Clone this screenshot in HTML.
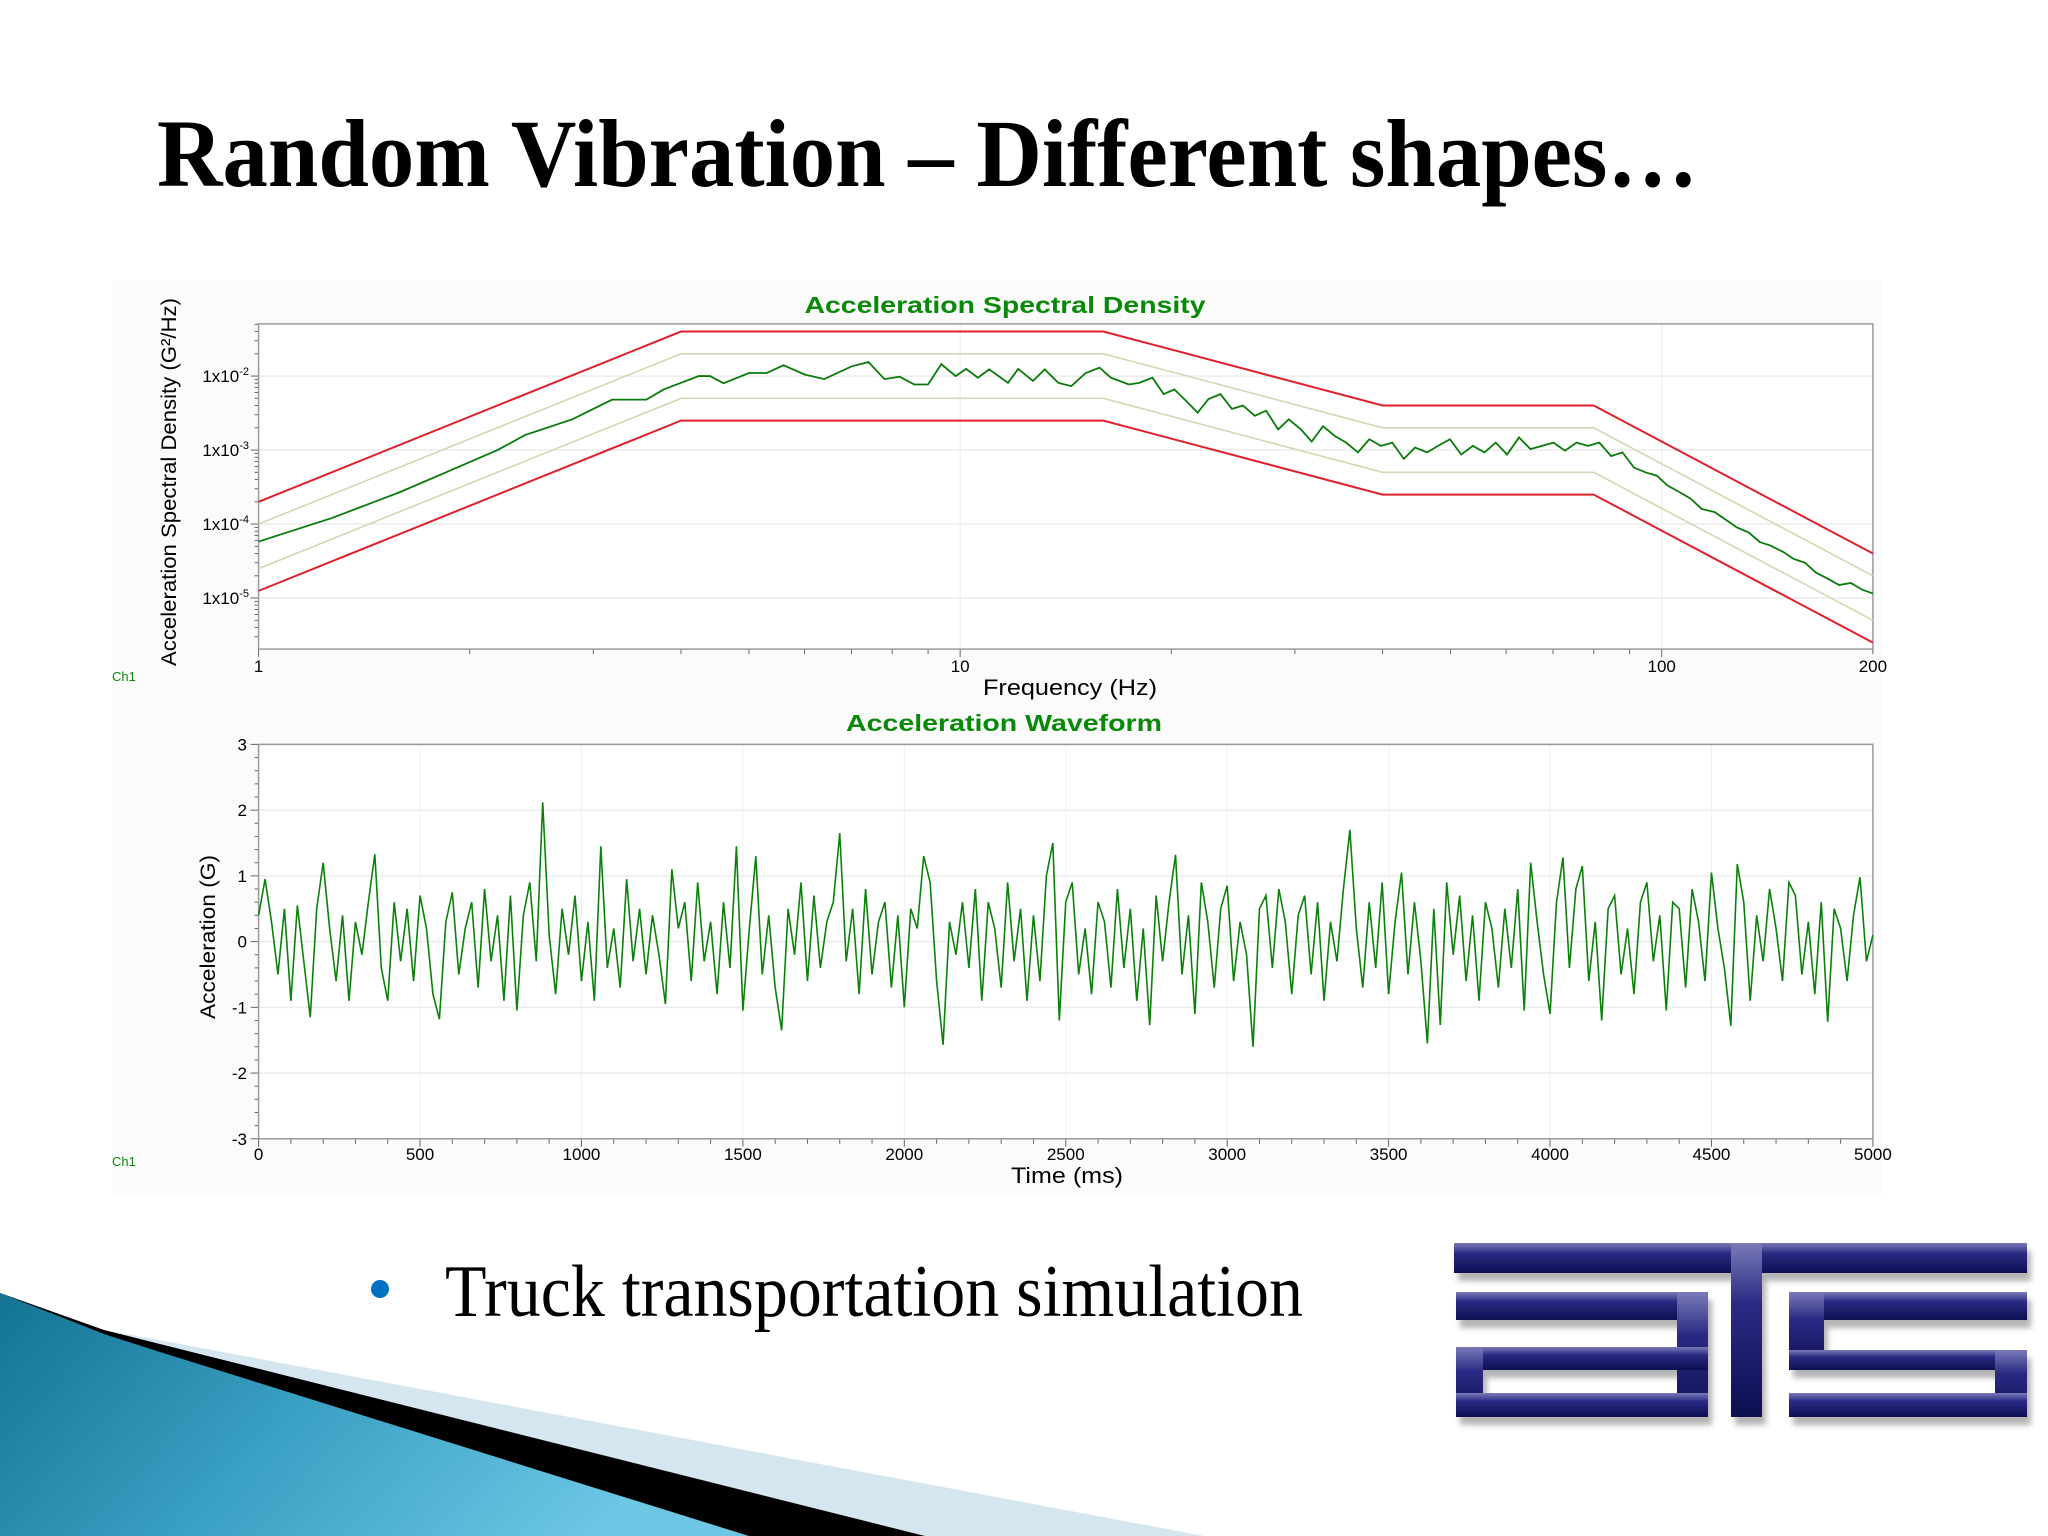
<!DOCTYPE html>
<html><head><meta charset="utf-8"><style>
html,body{margin:0;padding:0;background:#fff;}
svg{display:block;}
</style></head><body>
<svg id="slide" width="2048" height="1536" viewBox="0 0 2048 1536" xmlns="http://www.w3.org/2000/svg">
<defs>
<linearGradient id="teal" x1="0" y1="0" x2="1" y2="0.3"><stop offset="0" stop-color="#137392"/><stop offset="0.5" stop-color="#3aa0c4"/><stop offset="1" stop-color="#6cc6e4"/></linearGradient>
<linearGradient id="navy" x1="0" y1="0" x2="0" y2="1"><stop offset="0" stop-color="#7a7ab8"/><stop offset="0.35" stop-color="#2a2a84"/><stop offset="1" stop-color="#0e0e52"/></linearGradient>
<filter id="blur" x="-10%" y="-10%" width="120%" height="130%"><feGaussianBlur stdDeviation="3"/></filter>
</defs>
<rect x="0" y="0" width="2048" height="1536" fill="#fff"/>
<rect x="112" y="280" width="1770" height="915" fill="#fbfbfb"/>
<text x="157" y="186" font-family="Liberation Serif, serif" font-weight="bold" font-size="96" fill="#000" textLength="1541" lengthAdjust="spacingAndGlyphs">Random Vibration – Different shapes…</text>

<g id="asd"></g>
<g id="wave"></g>

<circle cx="380" cy="1289" r="9" fill="#0070c0"/>
<text x="445" y="1316" font-family="Liberation Serif, serif" font-size="74" fill="#000" textLength="858" lengthAdjust="spacingAndGlyphs">Truck transportation simulation</text>

<g>
<g fill="#777" opacity="0.55" filter="url(#blur)" transform="translate(4,8)">
<rect x="1454" y="1243" width="573" height="30"/>
<rect x="1731" y="1243" width="31" height="174"/>
<rect x="1456" y="1292" width="252" height="28"/>
<rect x="1677" y="1292" width="31" height="125"/>
<rect x="1456" y="1347" width="252" height="23"/>
<rect x="1456" y="1347" width="27" height="70"/>
<rect x="1456" y="1393" width="252" height="24"/>
<rect x="1789" y="1292" width="238" height="28"/>
<rect x="1789" y="1292" width="35" height="78"/>
<rect x="1789" y="1350" width="238" height="20"/>
<rect x="1995" y="1350" width="32" height="67"/>
<rect x="1789" y="1393" width="238" height="24"/>
</g>
<g fill="url(#navy)">
<rect x="1454" y="1243" width="573" height="30"/>
<rect x="1731" y="1243" width="31" height="174"/>
<rect x="1456" y="1292" width="252" height="28"/>
<rect x="1677" y="1292" width="31" height="125"/>
<rect x="1456" y="1347" width="252" height="23"/>
<rect x="1456" y="1347" width="27" height="70"/>
<rect x="1456" y="1393" width="252" height="24"/>
<rect x="1789" y="1292" width="238" height="28"/>
<rect x="1789" y="1292" width="35" height="78"/>
<rect x="1789" y="1350" width="238" height="20"/>
<rect x="1995" y="1350" width="32" height="67"/>
<rect x="1789" y="1393" width="238" height="24"/>
</g>
</g>

<g>
<polygon points="0,1293 104,1330 175,1343 1204,1536 0,1536" fill="#d4e6ef"/>
<polygon points="0,1293 104,1330 925,1536 0,1536" fill="#000"/>
<polygon points="0,1293 104,1334 160,1352 749,1536 0,1536" fill="url(#teal)"/>
</g>
</svg>
<script>
// ---------- ASD data ----------
const asdFreq = [1,1.27,1.59,1.85,2.19,2.4,2.8,3.19,3.57,3.78,4.0,4.24,4.4,4.6,5.0,5.3,5.6,6.0,6.4,7.0,7.4,7.8,8.2,8.6,9.0,9.4,9.85,10.2,10.6,11.0,11.7,12.1,12.7,13.2,13.8,14.4,15.1,15.8,16.4,17.4,18.0,18.8,19.5,20.2,21.0,21.8,22.6,23.5,24.4,25.3,26.3,27.3,28.4,29.4,30.6,31.7,32.9,34.2,35.5,36.9,38.3,39.8,41.3,42.9,44.5,46.3,48.0,49.9,51.8,53.8,55.9,58.0,60.2,62.6,65.0,67.5,70.1,72.8,75.6,78.5,81.5,84.7,87.9,91.3,94.8,98.4,102,106,110,114,119,123,128,133,138,143,149,154,160,166,173,179,186,193,200];
const asdValue = [5.8e-5,1.2e-4,2.7e-4,5.0e-4,1.0e-3,1.6e-3,2.6e-3,4.8e-3,4.8e-3,6.6e-3,8.1e-3,1.0e-2,1.0e-2,8.0e-3,1.1e-2,1.1e-2,1.4e-2,1.05e-2,9.1e-3,1.35e-2,1.55e-2,9.1e-3,9.8e-3,7.7e-3,7.7e-3,1.45e-2,1.0e-2,1.25e-2,9.5e-3,1.23e-2,8.1e-3,1.25e-2,8.6e-3,1.23e-2,8.1e-3,7.3e-3,1.1e-2,1.3e-2,9.5e-3,7.7e-3,8.1e-3,9.5e-3,5.7e-3,6.6e-3,4.6e-3,3.2e-3,4.9e-3,5.7e-3,3.6e-3,4.0e-3,2.9e-3,3.4e-3,1.9e-3,2.6e-3,1.9e-3,1.3e-3,2.1e-3,1.55e-3,1.26e-3,9.3e-4,1.4e-3,1.14e-3,1.26e-3,7.6e-4,1.08e-3,9.3e-4,1.14e-3,1.4e-3,8.7e-4,1.14e-3,9.3e-4,1.26e-3,8.7e-4,1.48e-3,1.03e-3,1.14e-3,1.26e-3,9.8e-4,1.26e-3,1.14e-3,1.26e-3,8.3e-4,9.3e-4,5.8e-4,5.0e-4,4.5e-4,3.3e-4,2.7e-4,2.2e-4,1.6e-4,1.45e-4,1.17e-4,9.0e-5,7.7e-5,5.7e-5,5.1e-5,4.2e-5,3.4e-5,3.0e-5,2.2e-5,1.8e-5,1.5e-5,1.6e-5,1.3e-5,1.15e-5];
const profFreq = [1,4,16,40,80,200];
const profValue = [5e-5,0.01,0.01,0.001,0.001,1e-5];
const tolFactors = [4,2,0.5,0.25];
const asdXTicks = [1,10,100,200];
const asdYTicks = [-2,-3,-4,-5];

// ---------- Waveform data ----------
const waveStepMs = 20;
const waveValues = [0.4,0.95,0.3,-0.5,0.5,-0.9,0.55,-0.3,-1.15,0.5,
1.2,0.2,-0.6,0.4,-0.9,0.3,-0.2,0.6,1.33,-0.4,
-0.9,0.6,-0.3,0.5,-0.6,0.7,0.2,-0.8,-1.18,0.3,
0.75,-0.5,0.2,0.6,-0.7,0.8,-0.3,0.4,-0.9,0.7,
-1.05,0.4,0.9,-0.3,2.12,0.1,-0.8,0.5,-0.2,0.7,
-0.6,0.3,-0.9,1.45,-0.4,0.2,-0.7,0.95,-0.3,0.5,
-0.5,0.4,-0.2,-0.95,1.1,0.2,0.6,-0.6,0.9,-0.3,
0.3,-0.8,0.6,-0.4,1.45,-1.05,0.2,1.3,-0.5,0.4,
-0.7,-1.35,0.5,-0.2,0.9,-0.6,0.7,-0.4,0.3,0.6,
1.65,-0.3,0.5,-0.8,0.8,-0.5,0.3,0.6,-0.7,0.4,
-1.0,0.5,0.2,1.3,0.9,-0.6,-1.57,0.3,-0.2,0.6,
-0.4,0.8,-0.9,0.6,0.2,-0.7,0.9,-0.3,0.5,-0.9,
0.4,-0.6,1.0,1.5,-1.2,0.6,0.9,-0.5,0.2,-0.8,
0.6,0.3,-0.7,0.8,-0.4,0.5,-0.9,0.2,-1.27,0.7,
-0.3,0.6,1.32,-0.5,0.4,-1.1,0.9,0.3,-0.7,0.5,
0.85,-0.6,0.3,-0.2,-1.6,0.5,0.7,-0.4,0.8,0.3,
-0.8,0.4,0.7,-0.5,0.6,-0.9,0.3,-0.3,0.8,1.7,
0.2,-0.7,0.6,-0.4,0.9,-0.8,0.3,1.05,-0.5,0.6,
-0.3,-1.55,0.5,-1.27,0.9,-0.2,0.7,-0.6,0.4,-0.9,
0.6,0.2,-0.7,0.5,-0.4,0.8,-1.05,1.2,0.3,-0.5,
-1.1,0.6,1.28,-0.4,0.8,1.15,-0.6,0.3,-1.2,0.5,
0.7,-0.5,0.2,-0.8,0.6,0.9,-0.3,0.4,-1.05,0.6,
0.5,-0.7,0.8,0.3,-0.6,1.05,0.2,-0.4,-1.28,1.18,
0.6,-0.9,0.4,-0.3,0.8,0.2,-0.6,0.9,0.7,-0.5,
0.3,-0.8,0.6,-1.22,0.5,0.2,-0.6,0.4,0.98,-0.3,0.1];
const waveXTicks = [0,500,1000,1500,2000,2500,3000,3500,4000,4500,5000];
const waveYTicks = [3,2,1,0,-1,-2,-3];

const NS = 'http://www.w3.org/2000/svg';
function mk(tag, attrs, parent){const e=document.createElementNS(NS,tag);for(const k in attrs)e.setAttribute(k,attrs[k]);parent.appendChild(e);return e;}
const FONT='Liberation Sans, sans-serif';

// ===== ASD chart =====
const A = document.getElementById('asd');
const aL=258.6,aR=1872.9,aT=323.9,aB=649.1;
const yTopLog=-1.295,yBotLog=-5.69;
const ax = f => aL + Math.log10(f)/Math.log10(200)*(aR-aL);
const ay = v => aT + (yTopLog-Math.log10(v))/(yTopLog-yBotLog)*(aB-aT);
let bg=mk('rect',{x:aL,y:aT,width:aR-aL,height:aB-aT,fill:'#fff'},A);


[10,100].forEach(f=>{let g=mk('line',{x1:ax(f),x2:ax(f),y1:aT,y2:aB,stroke:'#ececec','stroke-width':1},A);

});
asdYTicks.forEach(e=>{const y=ay(Math.pow(10,e));let g=mk('line',{x1:aL,x2:aR,y1:y,y2:y,stroke:'#ececec','stroke-width':1.5},A);


let t=mk('text',{x:249,y:y+6,'text-anchor':'end','font-family':FONT,'font-size':17,fill:'#000'},A);


t.textContent='1x10';const s=mk('tspan',{dy:-7,'font-size':11},t);s.textContent=String(e);});
for(let d=1;d<=100;d*=10){for(let m=1;m<10;m++){const f=d*m;if(f>200)break;const x=ax(f);mk('line',{x1:x,x2:x,y1:aB,y2:aB+(m===1?8:5),stroke:'#666','stroke-width':1},A);}}
for(let e=-1;e>=-6;e--){for(let m=1;m<10;m++){const v=m*Math.pow(10,e);const y=ay(v);if(y<aT||y>aB)continue;mk('line',{x1:aL-(m===1?8:4),x2:aL,y1:y,y2:y,stroke:'#666','stroke-width':1},A);}}
asdXTicks.forEach(f=>{let t=mk('text',{x:ax(f),y:672,'text-anchor':'middle','font-family':FONT,'font-size':17,fill:'#000'},A);


t.textContent=String(f);});
let fr=mk('rect',{x:aL,y:aT,width:aR-aL,height:aB-aT,fill:'none',stroke:'#9a9a9a','stroke-width':1.5},A);


tolFactors.forEach(k=>{const pts=profFreq.map((f,i)=>ax(f)+','+ay(profValue[i]*k)).join(' ');
const red=(k===4||k===0.25);
let p=mk('polyline',{points:pts,fill:'none',stroke:red?'#e0202a':'#d8d4b4','stroke-width':red?2:1.6},A);

});
let trace=mk('polyline',{points:asdFreq.map((f,i)=>ax(f)+','+ay(asdValue[i])).join(' '),fill:'none',stroke:'#0a7a0a','stroke-width':1.8},A);


let at=mk('text',{x:1005,y:313,'text-anchor':'middle','font-family':FONT,'font-weight':'bold','font-size':23,fill:'#088a08',textLength:401,lengthAdjust:'spacingAndGlyphs'},A);


at.textContent='Acceleration Spectral Density';
let axt=mk('text',{x:1070,y:695,'text-anchor':'middle','font-family':FONT,'font-size':22,fill:'#000',textLength:174,lengthAdjust:'spacingAndGlyphs'},A);


axt.textContent='Frequency (Hz)';
let ayt=mk('text',{x:0,y:0,'text-anchor':'middle','font-family':FONT,'font-size':21,fill:'#000',textLength:368,lengthAdjust:'spacingAndGlyphs',transform:'translate(176,482) rotate(-90)'},A);


ayt.textContent='Acceleration Spectral Density (G²/Hz)';
let ch=mk('text',{x:112,y:681,'font-family':FONT,'font-size':13,fill:'#088a08'},A);


ch.textContent='Ch1';

// ===== Waveform chart =====
const W=document.getElementById('wave');
const wL=258.6,wR=1872.9,wT=744.4,wB=1138.8;
const wx=t=>wL+t/5000*(wR-wL);
const wy=v=>wT+(3-v)/6*(wB-wT);
let wbg=mk('rect',{x:wL,y:wT,width:wR-wL,height:wB-wT,fill:'#fff'},W);


waveXTicks.forEach(t=>{const x=wx(t);let g=mk('line',{x1:x,x2:x,y1:wT,y2:wB,stroke:'#f0f0f0','stroke-width':1},W);


let l=mk('text',{x:x,y:1160,'text-anchor':'middle','font-family':FONT,'font-size':17,fill:'#000'},W);


l.textContent=String(t);});
for(let t=0;t<=5000;t+=100){mk('line',{x1:wx(t),x2:wx(t),y1:wB,y2:wB+(t%500===0?8:5),stroke:'#666','stroke-width':1},W);}
for(let v=-3;v<=3.001;v+=0.2){mk('line',{x1:wL-(Math.abs(v-Math.round(v))<0.01?8:4),x2:wL,y1:wy(v),y2:wy(v),stroke:'#666','stroke-width':1},W);}
waveYTicks.forEach(v=>{const y=wy(v);let g=mk('line',{x1:wL,x2:wR,y1:y,y2:y,stroke:'#ececec','stroke-width':1.5},W);


let l=mk('text',{x:247,y:y+6,'text-anchor':'end','font-family':FONT,'font-size':17,fill:'#000'},W);


l.textContent=String(v);});
let wfr=mk('rect',{x:wL,y:wT,width:wR-wL,height:wB-wT,fill:'none',stroke:'#9a9a9a','stroke-width':1.5},W);


let wl=mk('polyline',{points:waveValues.map((v,i)=>wx(i*waveStepMs)+','+wy(v)).join(' '),fill:'none',stroke:'#0a820a','stroke-width':1.6},W);


let wt=mk('text',{x:1004,y:731,'text-anchor':'middle','font-family':FONT,'font-weight':'bold','font-size':23,fill:'#088a08',textLength:316,lengthAdjust:'spacingAndGlyphs'},W);


wt.textContent='Acceleration Waveform';
let wxt=mk('text',{x:1067,y:1183,'text-anchor':'middle','font-family':FONT,'font-size':22,fill:'#000',textLength:112,lengthAdjust:'spacingAndGlyphs'},W);


wxt.textContent='Time (ms)';
let wyt=mk('text',{x:0,y:0,'text-anchor':'middle','font-family':FONT,'font-size':21,fill:'#000',textLength:164,lengthAdjust:'spacingAndGlyphs',transform:'translate(215,937) rotate(-90)'},W);


wyt.textContent='Acceleration (G)';
let wch=mk('text',{x:112,y:1166,'font-family':FONT,'font-size':13,fill:'#088a08'},W);


wch.textContent='Ch1';
</script>
</body></html>
